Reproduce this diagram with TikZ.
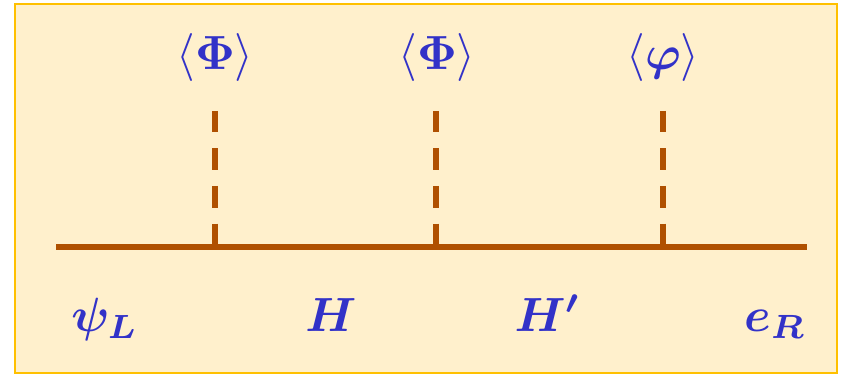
\documentclass[tikz,border=0pt]{standalone}
\usepackage{bm}
\usepackage{tikz}
\usetikzlibrary{positioning, calc}
\usepackage{xcolor}
\definecolor{slidebg}{RGB}{255, 240, 204}
\definecolor{slideframe}{RGB}{255, 192, 0}
\definecolor{lineorange}{RGB}{175, 80, 0}
\definecolor{fieldblue}{RGB}{50, 50, 200}
\newcommand{\bigfield}[1]{\scalebox{2.4}{#1}}
\tikzstyle{panel} = [draw=slideframe, fill=slidebg, line width=1pt]
\tikzstyle{field} = [text=fieldblue, inner sep=0pt, anchor=base]
\tikzstyle{prop} = [line width=2.6pt, draw=lineorange]
\tikzstyle{vevline} = [line width=2.7pt, draw=lineorange, dash pattern=on 10.75pt off 8pt]

\begin{document}
\begin{tikzpicture}[x=0.5pt, y=-0.5pt]
    \useasboundingbox (0,0) rectangle (841,374);
    \draw [panel] (14.5,4) rectangle (836.5,372.5);

    % Points on the line
    \coordinate (in) at (56,247);
    \coordinate (out) at (807,247);
    \coordinate (v1) at (215,247);
    \coordinate (v2) at (436,247);
    \coordinate (v3) at (663,247);
    \coordinate (t1) at (215,111);
    \coordinate (t2) at (436,111);
    \coordinate (t3) at (663,111);

    % Nodes
    \node (vevA) [field] at (215,70) {\bigfield{$\langle\bm{\Phi}\rangle$}};
    \node (vevB) [field] at (437,70) {\bigfield{$\langle\bm{\Phi}\rangle$}};
    \node (vevC) [field] at (663,70) {\bigfield{$\langle\bm{\varphi}\rangle$}};
    \node (psiL) [field] at (105,331) {\bigfield{$\bm{\psi_L}$}};
    \node (heavy) [field] at (331,331) {\bigfield{$\bm{H}$}};
    \node (heavyp) [field] at (548,331) {\bigfield{$\bm{H'}$}};
    \node (eR) [field] at (775,331) {\bigfield{$\bm{e_R}$}};

    % Lines
    \draw [prop] (in) -- (out);
    \draw [vevline] (t1) -- (v1);
    \draw [vevline] (t2) -- (v2);
    \draw [vevline] (t3) -- (v3);
\end{tikzpicture}
\end{document}
